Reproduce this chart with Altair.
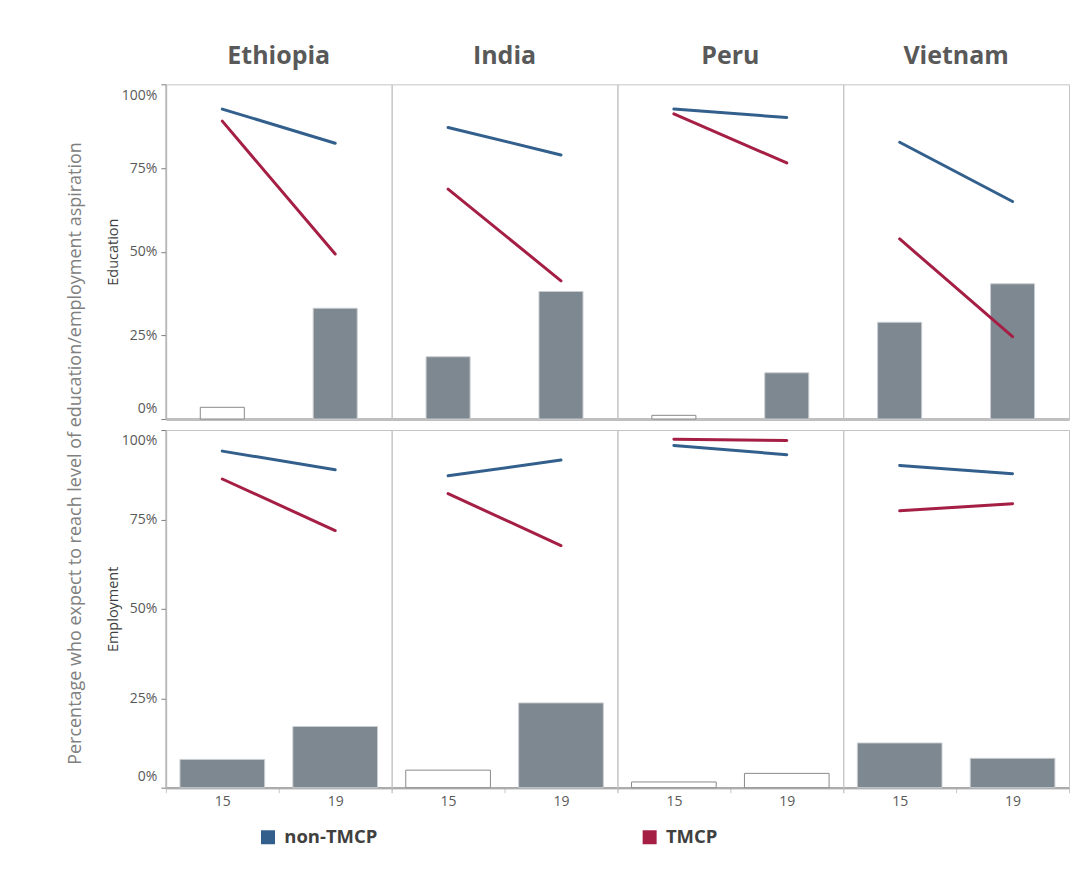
import altair as alt
import pandas as pd

countries = ["Ethiopia", "India", "Peru", "Vietnam"]
ages = ["15", "19"]
groups = ["non-TMCP", "TMCP"]

# values listed country by country, age 15 then 19 (percent)
edu_non_tmcp = [92.6, 82.4, 87.1, 78.9, 92.6, 90.1, 82.7, 65.0]
edu_tmcp = [89.0, 49.3, 68.7, 41.3, 91.2, 76.5, 53.8, 24.6]
edu_gap = [3.5, 33.1, 18.6, 38.1, 1.1, 13.8, 28.9, 40.4]
edu_sig = ["no", "yes", "yes", "yes", "no", "yes", "yes", "yes"]

emp_non_tmcp = [94.1, 88.9, 87.2, 91.6, 95.7, 93.1, 90.1, 87.8]
emp_tmcp = [86.3, 71.9, 82.2, 67.7, 97.4, 97.1, 77.4, 79.4]
emp_gap = [7.9, 17.1, 4.9, 23.7, 1.6, 4.0, 12.5, 8.2]
emp_sig = ["yes", "yes", "no", "yes", "no", "no", "yes", "yes"]

BLUE = "#335F8D"
RED = "#A51F45"
BARGREY = "#7E8890"
TXT = "#595959"
AXIS = "#7F7F7F"
FONT = "Open Sans"


def make_df(non, tm, gap, sig):
    cs = [c for c in countries for _ in ages]
    ag = [a for _ in countries for a in ages]
    rows = []
    for c, a, v in zip(cs, ag, non):
        rows.append({"country": c, "age": a, "series": "non-TMCP", "value": v / 100, "sig": ""})
    for c, a, v in zip(cs, ag, tm):
        rows.append({"country": c, "age": a, "series": "TMCP", "value": v / 100, "sig": ""})
    for c, a, v, s in zip(cs, ag, gap, sig):
        rows.append({"country": c, "age": a, "series": "gap", "value": v / 100, "sig": s})
    return pd.DataFrame(rows)


def row_chart(df, ytitle, height, barfrac, top):
    x = alt.X(
        "age:N",
        title=None,
        sort=ages,
        scale=alt.Scale(paddingInner=0, paddingOuter=0),
        axis=alt.Axis(
            labels=not top,
            ticks=not top,
            tickBand="extent",
            tickColor="#C8C8C8",
            tickSize=5,
            domainColor=AXIS,
            domainWidth=2,
            labelFont=FONT,
            labelFontSize=14,
            labelColor=TXT,
            labelPadding=2,
            labelAngle=0,
        ),
    )
    y = alt.Y(
        "value:Q",
        title=ytitle,
        scale=alt.Scale(domain=[0, 1], nice=False),
        axis=alt.Axis(
            values=[0, 0.25, 0.5, 0.75, 1],
            format=".0%",
            labelFlush=True,
            labelFlushOffset=-4,
            grid=False,
            domainColor=AXIS,
            domainWidth=1.5,
            tickColor=AXIS,
            tickSize=5,
            labelFont=FONT,
            labelFontSize=14,
            labelColor=TXT,
            labelPadding=4,
            titleFont=FONT,
            titleFontSize=14.5,
            titleFontWeight="normal",
            titleColor="#404040",
            titlePadding=1,
        ),
    )
    bars = (
        alt.Chart()
        .transform_filter("datum.series == 'gap'")
        .mark_bar(width=alt.RelativeBandSize(barfrac), strokeWidth=1)
        .encode(
            x=x,
            y=y,
            fill=alt.when(alt.datum.sig == "yes").then(alt.value(BARGREY)).otherwise(alt.value("white")),
            stroke=alt.when(alt.datum.sig == "yes").then(alt.value("#C9CDD1")).otherwise(alt.value("#8A8A8A")),
        )
    )
    lines = (
        alt.Chart()
        .transform_filter("datum.series != 'gap'")
        .mark_line(strokeWidth=3, strokeCap="round")
        .encode(
            x=x,
            y=alt.Y("value:Q"),
            color=alt.Color(
                "series:N",
                scale=alt.Scale(domain=groups, range=[BLUE, RED]),
                legend=alt.Legend(title=None),
            ),
        )
    )
    layer = alt.layer(bars, lines, data=df).properties(width=226, height=height)
    if top:
        header = alt.Header(
            title=None,
            labelFont=FONT,
            labelFontSize=25,
            labelFontWeight="bold",
            labelColor=TXT,
            labelPadding=15,
        )
    else:
        header = alt.Header(title=None, labels=False, labelPadding=0)
    return layer.facet(
        column=alt.Column("country:N", sort=countries, header=header),
        spacing=0,
        bounds="flush",
    )


top = row_chart(make_df(edu_non_tmcp, edu_tmcp, edu_gap, edu_sig), "Education", 335, 0.39, True)
bottom = row_chart(make_df(emp_non_tmcp, emp_tmcp, emp_gap, emp_sig), "Employment", 358, 0.75, False)

chart = (
    alt.vconcat(top, bottom, spacing=9)
    .properties(
        title=alt.Title(
            "Percentage who expect to reach level of education/employment aspiration",
            orient="left",
            anchor="middle",
            font=FONT,
            fontSize=18,
            fontWeight="normal",
            color="#808080",
            offset=20,
        ),
        padding={"left": 59, "top": 36, "right": 10, "bottom": 10},
    )
    .configure_view(stroke="#C4C4C4", strokeWidth=1)
    .configure_legend(
        orient="none",
        legendX=93,
        legendY=744,
        direction="horizontal",
        symbolType="square",
        symbolSize=4,
        symbolStrokeWidth=12,
        symbolOpacity=1,
        labelFont=FONT,
        labelFontSize=18.5,
        labelFontWeight="bold",
        labelColor="#404040",
        columnPadding=247,
        labelOffset=7,
    )
)

chart.save("out.html", embed_options={"renderer": "svg", "actions": False})
